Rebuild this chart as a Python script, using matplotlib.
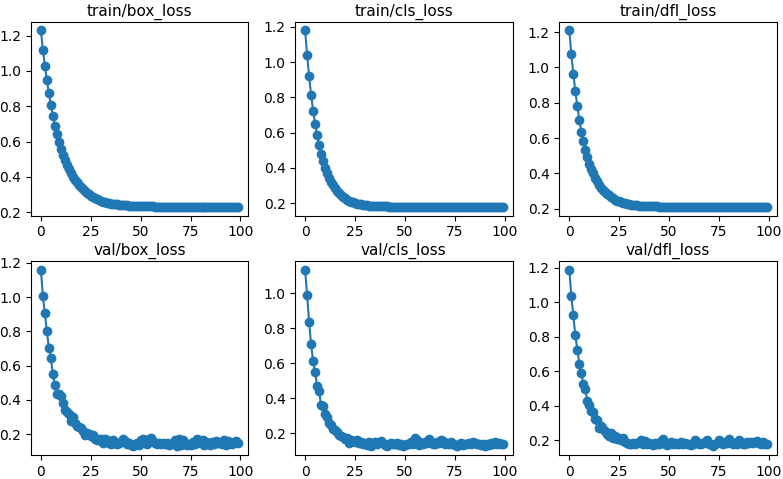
import numpy as np
import matplotlib
matplotlib.use("Agg")
import matplotlib.pyplot as plt

# epochs
epochs = list(range(100))

# values
train_box_loss = [
    1.23, 1.12, 1.03, 0.95, 0.875, 0.81, 0.745, 0.69, 0.645, 0.60,
    0.56, 0.525, 0.495, 0.47, 0.445, 0.42, 0.40, 0.385, 0.37, 0.355,
    0.342, 0.33, 0.32, 0.31, 0.301, 0.293, 0.286, 0.28, 0.274, 0.269,
    0.264, 0.26, 0.257, 0.254, 0.251, 0.249, 0.247, 0.245, 0.244, 0.243,
    0.242, 0.241, 0.240, 0.239, 0.238, 0.237, 0.237, 0.236, 0.236, 0.235,
    0.235, 0.234, 0.234, 0.234, 0.233, 0.233, 0.233, 0.232, 0.232, 0.232,
    0.232, 0.232, 0.231, 0.231, 0.231, 0.231, 0.231, 0.231, 0.231, 0.231,
    0.230, 0.230, 0.230, 0.230, 0.230, 0.230, 0.230, 0.230, 0.230, 0.230,
    0.230, 0.230, 0.230, 0.230, 0.230, 0.230, 0.230, 0.230, 0.230, 0.230,
    0.230, 0.230, 0.230, 0.230, 0.230, 0.230, 0.230, 0.230, 0.230, 0.230,
]
train_cls_loss = [
    1.18, 1.04, 0.92, 0.815, 0.725, 0.65, 0.585, 0.53, 0.48, 0.44,
    0.40, 0.37, 0.345, 0.32, 0.30, 0.285, 0.27, 0.255, 0.245, 0.235,
    0.226, 0.219, 0.213, 0.208, 0.204, 0.200, 0.197, 0.194, 0.192, 0.190,
    0.188, 0.187, 0.186, 0.185, 0.184, 0.183, 0.183, 0.182, 0.182, 0.181,
    0.181, 0.181, 0.180, 0.180, 0.180, 0.180, 0.180, 0.179, 0.179, 0.179,
    0.179, 0.179, 0.179, 0.179, 0.179, 0.179, 0.179, 0.179, 0.179, 0.179,
    0.179, 0.179, 0.179, 0.179, 0.178, 0.178, 0.178, 0.178, 0.178, 0.178,
    0.178, 0.178, 0.178, 0.178, 0.178, 0.178, 0.178, 0.178, 0.178, 0.178,
    0.178, 0.178, 0.178, 0.178, 0.178, 0.178, 0.178, 0.178, 0.178, 0.178,
    0.178, 0.178, 0.178, 0.178, 0.178, 0.178, 0.178, 0.178, 0.178, 0.178,
]
train_dfl_loss = [
    1.21, 1.075, 0.965, 0.865, 0.78, 0.705, 0.635, 0.585, 0.535, 0.495,
    0.455, 0.425, 0.40, 0.375, 0.355, 0.335, 0.32, 0.305, 0.295, 0.285,
    0.275, 0.266, 0.259, 0.252, 0.246, 0.241, 0.237, 0.233, 0.230, 0.227,
    0.225, 0.223, 0.221, 0.220, 0.219, 0.218, 0.217, 0.216, 0.215, 0.215,
    0.214, 0.214, 0.213, 0.213, 0.213, 0.212, 0.212, 0.212, 0.212, 0.211,
    0.211, 0.211, 0.211, 0.211, 0.211, 0.210, 0.210, 0.210, 0.210, 0.210,
    0.210, 0.210, 0.210, 0.210, 0.210, 0.210, 0.210, 0.210, 0.210, 0.210,
    0.210, 0.210, 0.210, 0.210, 0.210, 0.210, 0.210, 0.210, 0.210, 0.210,
    0.210, 0.210, 0.210, 0.210, 0.210, 0.210, 0.210, 0.210, 0.210, 0.210,
    0.210, 0.210, 0.210, 0.210, 0.210, 0.210, 0.210, 0.210, 0.210, 0.210,
]
val_box_loss = [
    1.16, 1.005, 0.905, 0.80, 0.705, 0.645, 0.55, 0.49, 0.435, 0.435,
    0.425, 0.38, 0.34, 0.33, 0.32, 0.28, 0.30, 0.265, 0.25, 0.245,
    0.235, 0.22, 0.195, 0.21, 0.20, 0.19, 0.195, 0.175, 0.165, 0.17,
    0.175, 0.15, 0.175, 0.165, 0.15, 0.145, 0.165, 0.15, 0.145, 0.15,
    0.155, 0.17, 0.16, 0.145, 0.15, 0.14, 0.13, 0.145, 0.15, 0.14,
    0.165, 0.17, 0.15, 0.145, 0.175, 0.18, 0.16, 0.15, 0.145, 0.15,
    0.145, 0.15, 0.145, 0.15, 0.14, 0.145, 0.15, 0.165, 0.13, 0.17,
    0.135, 0.165, 0.15, 0.14, 0.145, 0.14, 0.155, 0.145, 0.17, 0.165,
    0.15, 0.165, 0.14, 0.155, 0.15, 0.14, 0.155, 0.145, 0.16, 0.15,
    0.155, 0.145, 0.165, 0.14, 0.16, 0.15, 0.145, 0.155, 0.16, 0.15,
]
val_cls_loss = [
    1.135, 0.99, 0.835, 0.71, 0.61, 0.55, 0.47, 0.44, 0.36, 0.355,
    0.31, 0.295, 0.26, 0.245, 0.225, 0.22, 0.205, 0.19, 0.185, 0.175,
    0.165, 0.17, 0.145, 0.16, 0.155, 0.15, 0.16, 0.145, 0.15, 0.14,
    0.145, 0.13, 0.15, 0.125, 0.145, 0.15, 0.14, 0.145, 0.155, 0.145,
    0.13, 0.125, 0.14, 0.145, 0.135, 0.14, 0.145, 0.13, 0.14, 0.125,
    0.13, 0.14, 0.135, 0.15, 0.14, 0.17, 0.16, 0.13, 0.145, 0.14,
    0.15, 0.145, 0.165, 0.15, 0.14, 0.135, 0.15, 0.145, 0.16, 0.155,
    0.14, 0.145, 0.135, 0.15, 0.14, 0.13, 0.125, 0.14, 0.145, 0.13,
    0.14, 0.135, 0.145, 0.14, 0.15, 0.145, 0.14, 0.135, 0.13, 0.14,
    0.125, 0.14, 0.13, 0.145, 0.135, 0.15, 0.14, 0.145, 0.14, 0.14,
]
val_dfl_loss = [
    1.19, 1.035, 0.925, 0.81, 0.725, 0.645, 0.59, 0.525, 0.495, 0.43,
    0.405, 0.37, 0.365, 0.325, 0.315, 0.27, 0.28, 0.265, 0.255, 0.235,
    0.225, 0.24, 0.215, 0.225, 0.205, 0.215, 0.20, 0.21, 0.19, 0.185,
    0.18, 0.18, 0.185, 0.175, 0.185, 0.19, 0.20, 0.18, 0.195, 0.175,
    0.185, 0.18, 0.17, 0.185, 0.175, 0.18, 0.195, 0.205, 0.18, 0.17,
    0.175, 0.19, 0.18, 0.185, 0.175, 0.18, 0.19, 0.175, 0.185, 0.18,
    0.175, 0.17, 0.18, 0.20, 0.19, 0.18, 0.175, 0.185, 0.19, 0.20,
    0.18, 0.175, 0.165, 0.18, 0.185, 0.20, 0.185, 0.175, 0.19, 0.185,
    0.205, 0.19, 0.18, 0.185, 0.175, 0.20, 0.19, 0.18, 0.175, 0.19,
    0.185, 0.19, 0.185, 0.19, 0.195, 0.185, 0.175, 0.19, 0.18, 0.175,
]

titles = ["train/box_loss", "train/cls_loss", "train/dfl_loss",
          "val/box_loss", "val/cls_loss", "val/dfl_loss"]
series = [train_box_loss, train_cls_loss, train_dfl_loss,
          val_box_loss, val_cls_loss, val_dfl_loss]

fig, axes = plt.subplots(2, 3, figsize=(7.83, 4.79), dpi=100)
fig.subplots_adjust(left=0.0396, right=0.992, top=0.955, bottom=0.05,
                    wspace=0.216, hspace=0.232)

for ax, title, values in zip(axes.flat, titles, series):
    ax.plot(epochs, values, marker="o", markersize=6, linewidth=1.5, color="#1f77b4")
    ax.set_title(title, fontsize=11, pad=4)
    ax.set_xticks([0, 25, 50, 75, 100])

fig.savefig("out.png")
